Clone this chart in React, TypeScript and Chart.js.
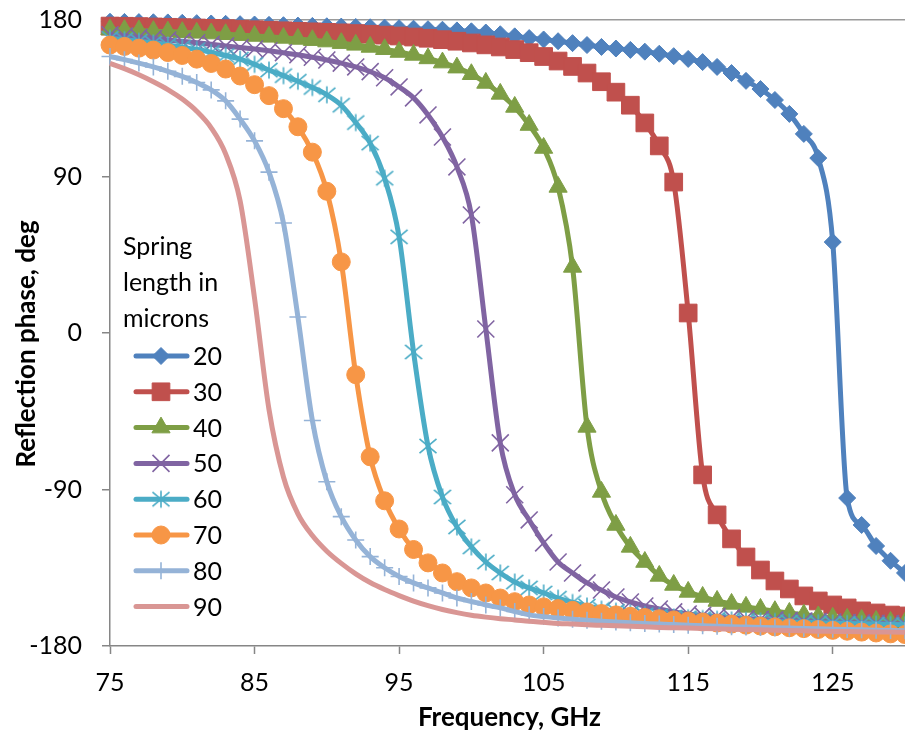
import React, { useEffect, useRef } from 'react';
import { Chart, registerables } from 'chart.js';
import { drawPoint } from 'chart.js/helpers';

Chart.register(...registerables);

// ---------- data ----------
const FREQUENCIES_GHZ = [
  75, 76, 77, 78, 79, 80, 81, 82, 83, 84,
  85, 86, 87, 88, 89, 90, 91, 92, 93, 94,
  95, 96, 97, 98, 99, 100, 101, 102, 103, 104,
  105, 106, 107, 108, 109, 110, 111, 112, 113, 114,
  115, 116, 117, 118, 119, 120, 121, 122, 123, 124,
  125, 126, 127, 128, 129, 130,
];

const PHASE_20 = [
  179, 178.9, 178.8, 178.7, 178.6, 178.4, 178.2, 178, 177.8, 177.6,
  177.4, 177.2, 177, 176.8, 176.6, 176.4, 176.2, 176, 175.8, 175.6,
  175.3, 175, 174.7, 174.4, 174, 173.5, 172.8, 171.8, 170.6, 169.6,
  168.8, 167.8, 166.7, 165.6, 164.5, 163.6, 162.8, 161.8, 160.6, 159.2,
  157.6, 155.8, 153, 149.5, 145, 140.3, 134, 126, 114.5, 100.6,
  52.3, -94.9, -110.4, -122.5, -131, -138,
];

const PHASE_30 = [
  176.5, 176.4, 176.2, 176, 175.8, 175.6, 175.4, 175.2, 175, 174.7,
  174.4, 174.1, 173.8, 173.5, 173.2, 172.9, 172.6, 172.2, 171.8, 171.3,
  170.8, 170.2, 169.5, 168.7, 167.8, 166.8, 165.7, 164.5, 163, 161.2,
  159, 156.4, 153.3, 149.5, 144.5, 138.5, 131, 120.8, 107.6, 86.8,
  11.5, -81.6, -104.6, -118.4, -128.8, -136.3, -142.6, -147.2, -151.2, -154.1,
  -156.4, -158.1, -159.8, -161, -162.2, -162.7,
];

const PHASE_40 = [
  174.5, 174.2, 173.9, 173.6, 173.3, 173, 172.6, 172.2, 171.8, 171.3,
  170.8, 170.3, 169.7, 169.1, 168.4, 167.6, 166.7, 165.7, 164.5, 163.2,
  161.6, 159.9, 157.9, 155.5, 152.6, 148.8, 143.8, 137.5, 130, 119.6,
  106.4, 84, 38, -54, -91.4, -110.4, -123, -131.7, -139.7, -144.9,
  -148.9, -151.8, -154.1, -155.8, -157.5, -158.7, -160, -161, -162, -163,
  -163.8, -164.4, -165, -165.6, -166.2, -166.6,
];

const PHASE_50 = [
  171.5, 170.8, 170, 169.3, 168.5, 167.7, 166.9, 166, 165.1, 164.2,
  163.3, 162.3, 161.2, 160, 158.6, 157, 155.2, 153, 150.3, 146.8,
  141.5, 135.2, 125.4, 112.7, 95.5, 67.9, 2.3, -63.2, -93, -107.5,
  -120.7, -131.7, -138, -143.7, -147.8, -151.8, -154.7, -157, -158.7, -160.4,
  -161.6, -162.4, -163.1, -163.7, -164.2, -164.6, -165, -165.3, -165.6, -165.9,
  -166.2, -166.5, -166.7, -166.9, -167.1, -167.3,
];

const PHASE_60 = [
  169.5, 168.7, 167.8, 166.8, 165.7, 164.4, 163, 161.4, 159.6, 157.5,
  154.5, 151.2, 148, 144.8, 141.2, 137, 131, 121, 109.2, 89,
  55.3, -10.9, -65, -94.3, -111.5, -123, -131.7, -138, -143.2, -146.6,
  -149.5, -152.5, -155, -157, -158.8, -160, -161, -162, -162.7, -163.3,
  -163.8, -164.2, -164.6, -165, -165.3, -165.6, -165.9, -166.2, -166.4, -166.6,
  -166.8, -167, -167.2, -167.4, -167.6, -167.8,
];

const PHASE_70 = [
  165.6, 164.8, 163.8, 162.7, 161.3, 159.6, 157.5, 155, 151.8, 147.8,
  142.8, 136.5, 129, 118.6, 104, 81.5, 40.9, -24, -71.2, -96.5,
  -112.7, -124.5, -132.2, -138, -143, -146.6, -149.5, -152.4, -154.5, -156.4,
  -157.5, -158.5, -159.5, -160.4, -161.3, -162.1, -162.9, -163.6, -164.3, -165,
  -165.6, -166.2, -166.8, -167.4, -168, -168.5, -169, -169.5, -170, -170.5,
  -171, -171.5, -172, -172.5, -173, -173.4,
];

const PHASE_80 = [
  159, 157.2, 155.2, 153, 150.5, 147.6, 144, 139.8, 133.5, 123,
  110.5, 92.5, 63.3, 9.2, -50.3, -85.5, -105.6, -119, -128.6, -135,
  -140, -143.7, -146.6, -149.5, -152.4, -154.4, -156.4, -158.1, -160.2, -162.1,
  -163.1, -163.9, -164.6, -165.2, -165.7, -166.2, -166.6, -167, -167.4, -167.7,
  -168, -168.3, -168.6, -168.9, -169.1, -169.3, -169.5, -169.7, -169.9, -170.1,
  -170.3, -170.5, -170.7, -170.9, -171.1, -171.3,
];

const PHASE_90 = [
  155, 152, 148.5, 144.5, 140, 134.5, 127.5, 118, 103, 76,
  20, -44, -82.8, -104, -116.5, -125.5, -132.5, -138.5, -143.5, -147.5,
  -151, -154.2, -156.8, -159, -160.8, -162.3, -163.4, -164.3, -165, -165.8,
  -166.4, -167, -167.4, -167.8, -168.1, -168.4, -168.7, -169, -169.3, -169.5,
  -169.7, -169.9, -170.1, -170.3, -170.5, -170.7, -170.9, -171.1, -171.3, -171.5,
  -171.6, -171.7, -171.8, -171.9, -172, -172.1,
];

const SERIES_LABELS = ['20', '30', '40', '50', '60', '70', '80', '90'];
const SERIES_VALUES = [PHASE_20, PHASE_30, PHASE_40, PHASE_50, PHASE_60, PHASE_70, PHASE_80, PHASE_90];
const SERIES_COLORS = ['#4F81BD', '#C0504D', '#7E9E45', '#8064A2', '#4BACC6', '#F79646', '#95B3D7', '#D99694'];

const X_TICKS = [75, 85, 95, 105, 115, 125];
const Y_TICKS = [-180, -90, 0, 90, 180];
const X_TITLE = 'Frequency, GHz';
const Y_TITLE = 'Reflection phase, deg';
const LEGEND_TITLE = ['Spring', 'length in', 'microns'];

const AXIS_COLOR = '#868686';
const FONT_FAMILY = 'Lato, "Open Sans", sans-serif';

function makeStar(color: string): HTMLCanvasElement {
  const size = 22;
  const c = document.createElement('canvas');
  c.width = size;
  c.height = size;
  const g = c.getContext('2d')!;
  g.strokeStyle = color;
  g.lineWidth = 1.6;
  const m = size / 2;
  const a = 8.5;
  g.beginPath();
  g.moveTo(m - a, m - a * 0.85);
  g.lineTo(m + a, m + a * 0.85);
  g.moveTo(m + a, m - a * 0.85);
  g.lineTo(m - a, m + a * 0.85);
  g.moveTo(m, m - a);
  g.lineTo(m, m + a);
  g.stroke();
  return c;
}

const overlayPlugin = {
  id: 'overlay',
  afterDraw(chart: any) {
    const ctx: CanvasRenderingContext2D = chart.ctx;
    const area = chart.chartArea;
    ctx.save();
    ctx.fillStyle = '#000';
    ctx.font = `25px ${FONT_FAMILY}`;
    ctx.textAlign = 'left';
    ctx.textBaseline = 'alphabetic';
    LEGEND_TITLE.forEach((t, i) => ctx.fillText(t, 123, 255 + i * 36));

    chart.data.datasets.forEach((ds: any, i: number) => {
      const y = 356 + i * 35.8;
      ctx.save();
      ctx.strokeStyle = ds.borderColor;
      ctx.lineWidth = ds.borderWidth;
      ctx.lineCap = 'round';
      ctx.beginPath();
      ctx.moveTo(136, y);
      ctx.lineTo(187, y);
      ctx.stroke();
      if (ds.pointRadius > 0) {
        ctx.fillStyle = ds.pointBackgroundColor;
        ctx.strokeStyle = ds.pointBorderColor;
        ctx.lineWidth = ds.pointBorderWidth;
        ctx.lineCap = 'butt';
        drawPoint(ctx, {
          pointStyle: ds.pointStyle,
          radius: ds.pointRadius,
          borderWidth: ds.pointBorderWidth,
          rotation: 0,
        } as any, 161, y);
      }
      ctx.restore();
      ctx.fillStyle = '#000';
      ctx.font = `25px ${FONT_FAMILY}`;
      ctx.textBaseline = 'middle';
      ctx.fillText(ds.label, 193, y + 1);
    });

    ctx.font = `bold 26px ${FONT_FAMILY}`;
    ctx.textAlign = 'center';
    ctx.textBaseline = 'middle';
    ctx.fillText(X_TITLE, (area.left + area.right) / 2 + 2, 718);
    ctx.translate(27, 344);
    ctx.rotate(-Math.PI / 2);
    ctx.fillText(Y_TITLE, 0, 0);
    ctx.restore();
  },
};

export default function App() {
  const canvasRef = useRef<HTMLCanvasElement | null>(null);

  useEffect(() => {
    const canvas = canvasRef.current;
    if (!canvas) return;

    const styles: any[] = [
      { pointStyle: 'rectRot', pointRadius: 8.5, pointBorderWidth: 1 },
      { pointStyle: 'rect', pointRadius: 12.5, pointBorderWidth: 1 },
      { pointStyle: 'triangle', pointRadius: 10.5, pointBorderWidth: 1 },
      { pointStyle: 'crossRot', pointRadius: 12, pointBorderWidth: 1.6 },
      { pointStyle: makeStar(SERIES_COLORS[4]), pointRadius: 9, pointBorderWidth: 1.6 },
      { pointStyle: 'circle', pointRadius: 9, pointBorderWidth: 1 },
      { pointStyle: 'cross', pointRadius: 8.5, pointBorderWidth: 1.6 },
      { pointStyle: 'circle', pointRadius: 0, pointBorderWidth: 0 },
    ];

    const datasets = SERIES_LABELS.map((label, i) => ({
      label,
      data: SERIES_VALUES[i].map((v, j) => ({ x: FREQUENCIES_GHZ[j], y: v })),
      borderColor: SERIES_COLORS[i],
      backgroundColor: SERIES_COLORS[i],
      pointBackgroundColor: SERIES_COLORS[i],
      pointBorderColor: SERIES_COLORS[i],
      borderWidth: 5,
      ...styles[i],
      pointHoverRadius: styles[i].pointRadius,
      cubicInterpolationMode: 'monotone',
      clip: false,
      order: SERIES_LABELS.length - i,
    }));

    const tickFont = { family: FONT_FAMILY, size: 25 };

    const chart = new Chart(canvas, {
      type: 'line',
      data: { datasets } as any,
      options: {
        responsive: false,
        animation: false,
        events: [],
        layout: { autoPadding: false, padding: { top: 20, right: 0, left: 0, bottom: 0 } },
        plugins: {
          legend: { display: false },
          tooltip: { enabled: false },
        },
        scales: {
          x: {
            type: 'linear',
            min: 75,
            max: 130,
            afterBuildTicks: (s: any) => {
              s.ticks = X_TICKS.map((v) => ({ value: v }));
            },
            afterFit: (s: any) => {
              s.height = 90;
              s.paddingLeft = 0;
              s.paddingRight = 0;
            },
            grid: {
              drawOnChartArea: false,
              tickLength: 8,
              tickColor: AXIS_COLOR,
              tickWidth: 1.5,
            },
            border: { color: AXIS_COLOR, width: 1.5 },
            ticks: {
              font: tickFont,
              color: '#000',
              padding: 14,
              maxRotation: 0,
              autoSkip: false,
            },
          },
          y: {
            type: 'linear',
            min: -180,
            max: 180,
            afterBuildTicks: (s: any) => {
              s.ticks = Y_TICKS.map((v) => ({ value: v }));
            },
            afterFit: (s: any) => {
              s.width = 110;
              s.paddingTop = 0;
              s.paddingBottom = 0;
            },
            grid: {
              color: (c: any) => (c.tick && c.tick.value === 180 ? '#9A9A9A' : 'rgba(0,0,0,0)'),
              lineWidth: 1.5,
              tickLength: 8,
              tickColor: AXIS_COLOR,
              tickWidth: 1.5,
            },
            border: { color: AXIS_COLOR, width: 1.5 },
            ticks: {
              font: tickFont,
              color: '#000',
              padding: 20,
              autoSkip: false,
            },
          },
        },
      },
      plugins: [overlayPlugin],
    } as any);

    return () => {
      chart.destroy();
    };
  }, []);

  return (
    <div style={{ position: 'absolute', left: 0, top: 0, width: 905, height: 736, background: '#fff' }}>
      <canvas ref={canvasRef} width={905} height={736} />
    </div>
  );
}
